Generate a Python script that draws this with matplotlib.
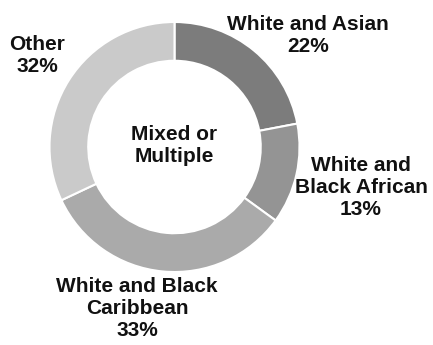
import matplotlib
matplotlib.use("Agg")
import matplotlib.pyplot as plt

categories = ["White and Asian", "White and\nBlack African", "White and Black\nCaribbean", "Other"]
values = [22, 13, 33, 32]
colors = ["#7c7c7c", "#949494", "#aaaaaa", "#cacaca"]

W, H = 433, 345
fig = plt.figure(figsize=(W / 100, H / 100), dpi=100)
cx, cy, r = 174.5, 147, 125
ax = fig.add_axes([(cx - r) / W, (H - cy - r) / H, 2 * r / W, 2 * r / H])
ax.pie(values, colors=colors, startangle=90, counterclock=False, radius=1,
       wedgeprops=dict(width=0.31, edgecolor="white", linewidth=1.5))
ax.set_xlim(-1, 1)
ax.set_ylim(-1, 1)
ax.set_aspect("equal")
ax.axis("off")

font = dict(family=["Liberation Sans", "DejaVu Sans"], fontweight="bold", fontsize=15,
            ha="center", va="center", linespacing=1.2, color="#111111")

def put(x, y, s):
    fig.text(x / W, 1 - y / H, s, **font)

put(cx, 146, "Mixed or\nMultiple")
put(308, 35, f"{categories[0]}\n{values[0]}%")
put(361, 187, f"{categories[1]}\n{values[1]}%")
put(137, 308, f"{categories[2]}\n{values[2]}%")
put(37, 55, f"{categories[3]}\n{values[3]}%")

fig.savefig("out.png", dpi=100, facecolor="white")
